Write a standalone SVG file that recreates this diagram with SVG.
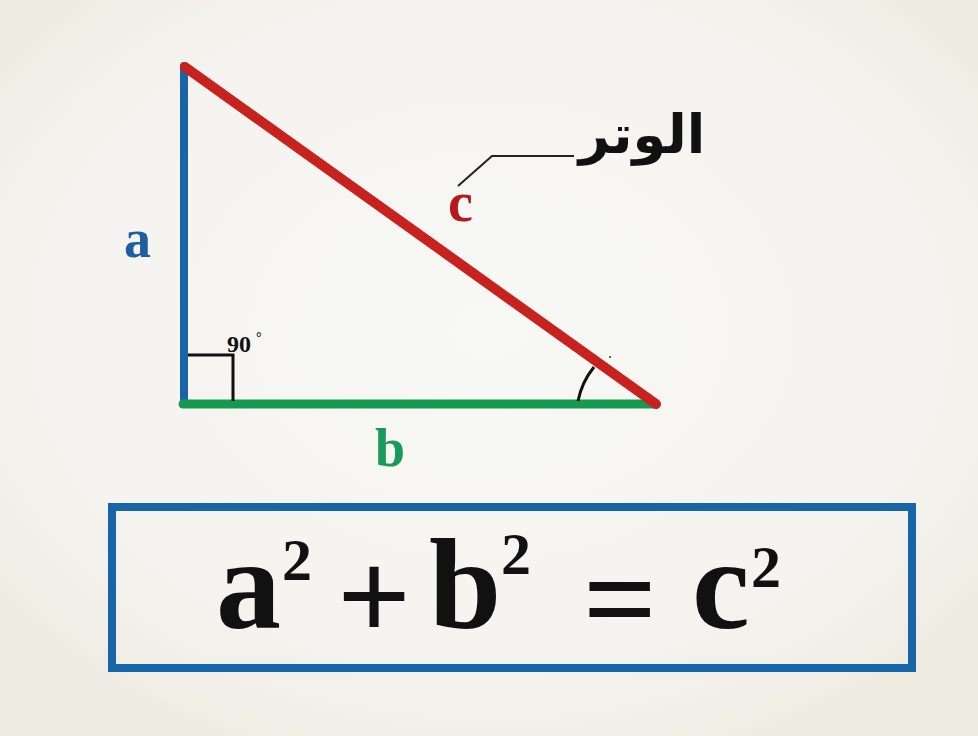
<svg xmlns="http://www.w3.org/2000/svg" width="978" height="736" viewBox="0 0 978 736">
<defs>
<radialGradient id="bg" cx="50%" cy="45%" r="65%">
<stop offset="0" stop-color="#f8f8f6"/>
<stop offset="0.7" stop-color="#f4f3ef"/>
<stop offset="1" stop-color="#eeebe0"/>
</radialGradient>
<style>
.lbl{font-family:"Liberation Serif","DejaVu Serif",serif;font-weight:bold}
.eq{font-family:"Liberation Serif","DejaVu Serif",serif;font-weight:bold;fill:#111}
.ar{font-family:"DejaVu Sans","Noto Sans",sans-serif;font-weight:bold;fill:#111}
</style>
</defs>
<rect width="978" height="736" fill="url(#bg)"/>
<g id="triangle">
<line x1="184" y1="66" x2="184" y2="404" stroke="#1b63a8" stroke-width="8" stroke-linecap="round"/>
<line x1="183" y1="404" x2="656" y2="404" stroke="#169a4f" stroke-width="9" stroke-linecap="round"/>
<polyline points="188,355 233,355 233,401" fill="none" stroke="#111" stroke-width="3"/>
<path d="M578,401 A78,78 0 0 1 594,367" fill="none" stroke="#111" stroke-width="3"/>
<line x1="185" y1="67" x2="656" y2="404" stroke="#c8221f" stroke-width="10" stroke-linecap="round"/>
<circle cx="610" cy="357" r="1" fill="#333"/>
</g>
<g id="labels">
<text class="lbl" x="124" y="257" font-size="54" fill="#1f5fa0">a</text>
<text class="lbl" x="375" y="466" font-size="54" fill="#1a9a5a">b</text>
<text class="lbl" x="448" y="221" font-size="56" fill="#b5191c">c</text>
<text class="lbl" x="227" y="352" font-size="24" fill="#111">90</text>
<text class="lbl" x="256" y="342" font-size="14" fill="#111">°</text>
</g>
<g id="connectors">
<polyline points="458,186 492,156 574,156" fill="none" stroke="#222" stroke-width="2"/>
</g>
<g id="hypotenuse-label">
<text class="ar" x="642" y="153" font-size="54" text-anchor="middle">الوتر</text>
</g>
<g id="formula">
<rect x="112" y="507" width="800" height="161" fill="none" stroke="#1565a8" stroke-width="8"/>
<text class="eq" x="216" y="628" font-size="130">a</text>
<text class="eq" x="282" y="580" font-size="60">2</text>
<text class="eq" x="337" y="640" font-size="130">+</text>
<text class="eq" x="429" y="628" font-size="130">b</text>
<text class="eq" x="501" y="574" font-size="60">2</text>
<text class="eq" x="583" y="642" font-size="130">=</text>
<text class="eq" x="692" y="628" font-size="130">c</text>
<text class="eq" x="751" y="587" font-size="60">2</text>
</g>
</svg>
